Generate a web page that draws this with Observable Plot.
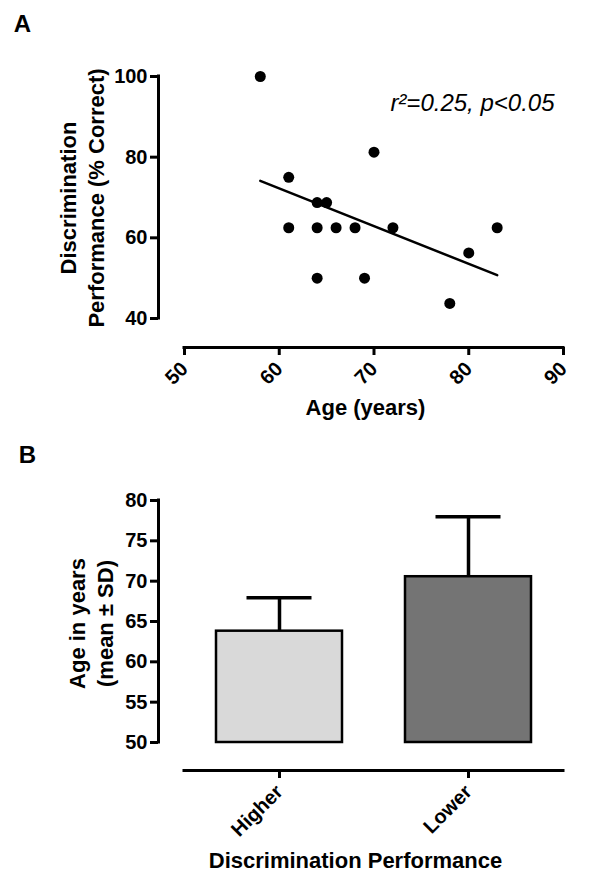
<!DOCTYPE html>
<html><head><meta charset="utf-8">
<script src="https://cdn.jsdelivr.net/npm/d3@7"></script>
<script src="https://cdn.jsdelivr.net/npm/@observablehq/plot@0.6"></script>
<style>
body{margin:0;background:#fff;}
#chart{width:600px;}
#chart svg{display:block;}
</style></head><body><div id="chart"></div>
<script>
// ---- Panel A data ----
const ages   = [58, 61, 61, 64, 64, 64, 65, 66, 68, 69, 70, 72, 78, 80, 83];
const scores = [100, 75, 62.5, 68.75, 62.5, 50, 68.75, 62.5, 62.5, 50, 81.25, 62.5, 43.75, 56.25, 62.5];
const ageTicks = [50, 60, 70, 80, 90];
const scoreTicks = [40, 60, 80, 100];
const annotation = "r\u00B2=0.25, p<0.05";

// ---- Panel B data ----
const groups = ["Higher", "Lower"];
const meanAge = [63.8, 70.55];
const sdAge = [4.15, 7.45];
const groupFills = ["#d9d9d9", "#747474"];
const ageAxisTicks = [50, 55, 60, 65, 70, 75, 80];

const font = "'Liberation Sans', Arial, Helvetica, sans-serif";
const baseStyle = {fontFamily: font, fontSize: "20px", fontWeight: "bold", background: "white", color: "black", overflow: "visible"};
const tickFont = 20;

const scatter = ages.map((a, i) => ({age: a, score: scores[i]}));
const bars = groups.map((g, i) => ({group: g, mean: meanAge[i], sd: sdAge[i], fill: groupFills[i]}));

const centered = {textAnchor: "middle", lineAnchor: "middle"};

const plotA = Plot.plot({
  width: 600, height: 430,
  marginLeft: 158, marginRight: 37, marginTop: 60, marginBottom: 83,
  style: baseStyle,
  x: {domain: [50, 90], range: [184, 563], label: null},
  y: {domain: [40, 100], range: [318, 76], label: null},
  marks: [
    Plot.ruleX([50], {y1: 40, y2: 100, dx: -26, strokeWidth: 3, strokeLinecap: "square"}),
    Plot.ruleY([40], {x1: 50, x2: 90, dy: 29, strokeWidth: 3, strokeLinecap: "square"}),
    Plot.axisY({ticks: scoreTicks, tickSize: 8, strokeWidth: 3, tickPadding: 3, fontSize: tickFont, label: null}),
    Plot.axisX({ticks: ageTicks, tickSize: 8, strokeWidth: 3, tickRotate: -45, tickPadding: 10, fontSize: tickFont, label: null}),
    Plot.linearRegressionY(scatter, {x: "age", y: "score", ci: 0, stroke: "black", strokeWidth: 2.5}),
    Plot.dot(scatter, {x: "age", y: "score", r: 5.5, fill: "black"}),
    Plot.text([annotation], {frameAnchor: "top-right", textAnchor: "end", lineAnchor: "middle", dx: -9, dy: 43, fontSize: 24, fontStyle: "italic", fontWeight: "normal"}),
    Plot.text(["Age (years)"], {frameAnchor: "bottom", ...centered, dx: 4.5, dy: 60, fontSize: 22}),
    Plot.text(["Discrimination"], {frameAnchor: "left", ...centered, rotate: -90, dx: -90, dy: -6, fontSize: 22}),
    Plot.text(["Performance (% Correct)"], {frameAnchor: "left", ...centered, rotate: -90, dx: -62, dy: -6, fontSize: 22}),
    Plot.text(["A"], {frameAnchor: "top-left", ...centered, dx: -136, dy: -36, fontSize: 24})
  ]
});

const plotB = Plot.plot({
  width: 600, height: 461,
  marginLeft: 158, marginRight: 37, marginTop: 60, marginBottom: 121,
  style: baseStyle,
  x: {type: "band", domain: groups, range: [184, 563], paddingInner: 0.335, paddingOuter: 0.1675, label: null},
  y: {domain: [50, 80], range: [312, 70], label: null},
  color: {type: "identity"},
  marks: [
    Plot.ruleX([groups[0]], {y1: 50, y2: 80, dx: -121, strokeWidth: 3, strokeLinecap: "square"}),
    Plot.ruleY([50], {dy: 28, insetLeft: 26, strokeWidth: 3, strokeLinecap: "square"}),
    Plot.axisY({ticks: ageAxisTicks, tickSize: 8, strokeWidth: 3, tickPadding: 3, fontSize: tickFont, label: null}),
    Plot.axisX({tickSize: 8, strokeWidth: 3, tickRotate: -45, tickPadding: 10, fontSize: tickFont, label: null}),
    Plot.ruleX(bars, {x: "group", y1: "mean", y2: d => d.mean + d.sd, strokeWidth: 3.5}),
    Plot.tickY(bars, {x: "group", y: d => d.mean + d.sd, strokeWidth: 3.5, insetLeft: 30.5, insetRight: 30.5}),
    Plot.barY(bars, {x: "group", y1: 50, y2: "mean", fill: "fill", stroke: "black", strokeWidth: 2.5}),
    Plot.text(["Discrimination Performance"], {frameAnchor: "bottom", ...centered, dx: -5.5, dy: 90, fontSize: 22}),
    Plot.text(["Age in years"], {frameAnchor: "left", ...centered, rotate: -90, dx: -81, dy: -7, fontSize: 22}),
    Plot.text(["(mean \u00B1 SD)"], {frameAnchor: "left", ...centered, rotate: -90, dx: -53, dy: -7, fontSize: 22}),
    Plot.text(["B"], {frameAnchor: "top-left", ...centered, dx: -131, dy: -35, fontSize: 24})
  ]
});

const root = document.getElementById("chart");
root.appendChild(plotA);
root.appendChild(plotB);
</script>
</body></html>
